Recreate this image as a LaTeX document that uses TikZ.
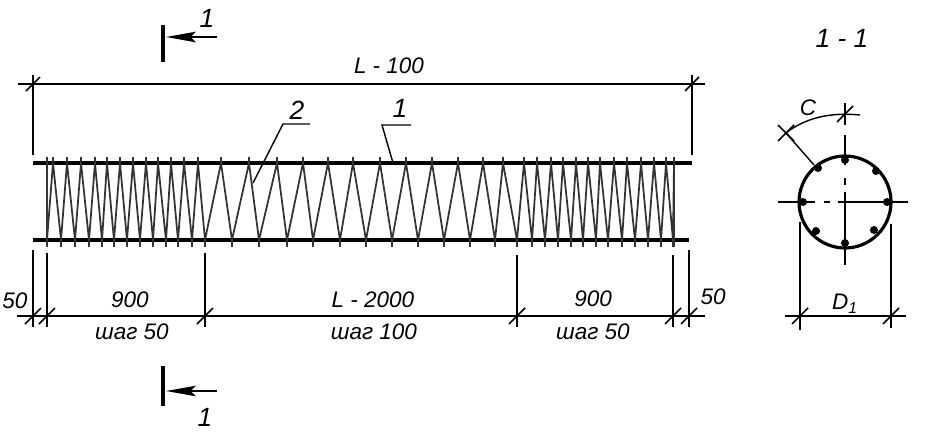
\documentclass[tikz,border=0pt]{standalone}
\usepackage{fontspec}
\usepackage{xcolor}
\usetikzlibrary{arrows.meta}
\setmainfont{Liberation Sans}
\tikzset{
    dimline/.style={line width=0.8pt},
    bar/.style={line width=1.8pt},
    spiral/.style={line width=1pt,black!80},
    tick/.style={line width=0.9pt},
    txt/.style={inner sep=0pt,font=\fontsize{12.8}{14}\selectfont\itshape},
    bigtxt/.style={inner sep=0pt,font=\fontsize{15}{16}\selectfont\itshape},
    cutarrow/.style={line width=1.2pt,-{Stealth[length=17pt,width=6pt,inset=3pt]}}
}
\newcommand{\spiralpts}{53/61,67/75,81/89,95/102,107/114,120/127,133/140,146/153,158/166,171/178,184/192,198/205,221/232,249/259,277/287,303/313,328/340,353/366,380/392,406/418,432/444,458/470,483/495,503/517,524/532,537/545,551/558,563/571,576/583,588/596,600/608,614/622,627/635,641/648,654/661,666/673}

\begin{document}
\begin{tikzpicture}[x=0.02cm,y=-0.02cm]
    \useasboundingbox (0,0) rectangle (928,436);
    % reinforcement cage
    \draw[bar] (33,163) -- (692,163);
    \draw[bar] (33,240) -- (689,240);
    \draw[spiral] (47,157) -- (47,247);
    \draw[spiral] (674,157) -- (674,247);
    \draw[spiral] (47,240) foreach \t/\b in \spiralpts { -- (\t,163) -- (\b,240) } -- (674,163);
    \foreach \t/\b in \spiralpts {
        \draw[spiral] (\t,157) -- (\t,166);
        \draw[spiral] (\b,237) -- (\b,247);
    }

    % overall dimension
    \coordinate (topL) at (33,84);
    \coordinate (topR) at (692,84);
    \draw[dimline] (18,84) -- (705,84);
    \draw[dimline] (topL) ++(0,-9) -- (33,155);
    \draw[dimline] (topR) ++(0,-9) -- (692,155);
    \foreach \x in {topL,topR}
        \draw[tick] (\x) ++(-7,7) -- ++(14,-14);
    \node[txt] (lenTop) at (389,66) {L - 100};

    % lower dimensions
    \coordinate (dimA) at (33,316);
    \coordinate (dimB) at (47,316);
    \coordinate (dimC) at (205,316);
    \coordinate (dimD) at (517,316);
    \coordinate (dimE) at (673,316);
    \coordinate (dimF) at (689,316);
    \draw[dimline] (17,316) -- (705,316);
    \draw[dimline] (33,250) -- (33,327);
    \draw[dimline] (47,253) -- (47,327);
    \draw[dimline] (205,253) -- (205,327);
    \draw[dimline] (517,255) -- (517,327);
    \draw[dimline] (673,255) -- (673,327);
    \draw[dimline] (689,250) -- (689,327);
    \foreach \x in {dimA,dimB,dimC,dimD,dimE,dimF}
        \draw[tick] (\x) ++(-8,8) -- ++(16,-16);
    \node[txt] (endL) at (15,301) {50};
    \node[txt] (endR) at (713,297) {50};
    \node[txt] (lenL) at (130,300) {900};
    \node[txt] (lenM) at (373,300) {L - 2000};
    \node[txt] (lenR) at (593,299) {900};
    \node[txt] (stepL) at (132,332) {шаг 50};
    \node[txt] (stepM) at (374,332) {шаг 100};
    \node[txt] (stepR) at (593,332) {шаг 50};

    % leaders
    \coordinate (leadA) at (283,124);
    \coordinate (leadB) at (382,125);
    \draw[dimline] (310,124) -- (leadA) -- (253,183);
    \draw[dimline] (411,125) -- (leadB) -- (393,163);
    \node[bigtxt] (markTwo) at (297,110) {2};
    \node[bigtxt] (markOne) at (400,108) {1};

    % section marks
    \draw[line width=2.5pt] (163,25) -- (163,62);
    \draw[line width=2.5pt] (163,366) -- (163,406);
    \draw[cutarrow] (217,37) -- (166,37);
    \draw[cutarrow] (217,391) -- (166,391);
    \node[bigtxt] (cutTop) at (207,18) {1};
    \node[bigtxt] (cutBot) at (205,417) {1};

    % section 1-1
    \node[bigtxt] (secName) at (842,38) {1 - 1};
    \coordinate (hub) at (845,202);
    \draw[bar] (hub) circle (46);
    \foreach \x/\y in {818/168,876/171,816/231,874/230,845/160,845/243,803/202,887/202}
        \fill (\x,\y) circle (4);
    \draw[dimline] (778,202) -- (815,202);
    \draw[dimline] (824,202) -- (830,202);
    \draw[dimline] (838,202) -- (908,202);
    \draw[dimline] (845,103) -- (845,125);
    \draw[dimline] (845,135) -- (845,165);
    \draw[dimline] (845,178) -- (845,185);
    \draw[dimline] (845,192) -- (845,265);

    % angle dimension
    \coordinate (arcA) at (786,133);
    \coordinate (arcB) at (845,114);
    \draw[dimline] (arcA) .. controls (805,118) and (830,112) .. (860,115);
    \draw[dimline] (arcA) -- (814,165);
    \foreach \x in {arcA,arcB}
        \draw[tick] (\x) ++(-8,8) -- ++(16,-16);
    \draw[tick] (arcA) ++(-8,-8) -- ++(16,16);
    \node[txt] (arcText) at (808,108) {C};

    % diameter
    \coordinate (diaL) at (800,316);
    \coordinate (diaR) at (891,316);
    \draw[dimline] (785,316) -- (906,316);
    \draw[dimline] (800,222) -- (800,330);
    \draw[dimline] (891,224) -- (891,328);
    \foreach \x in {diaL,diaR}
        \draw[tick] (\x) ++(-8,8) -- ++(16,-16);
    \node[txt] (diaText) at (845,304) {D\textsubscript{1}};
\end{tikzpicture}
\end{document}
